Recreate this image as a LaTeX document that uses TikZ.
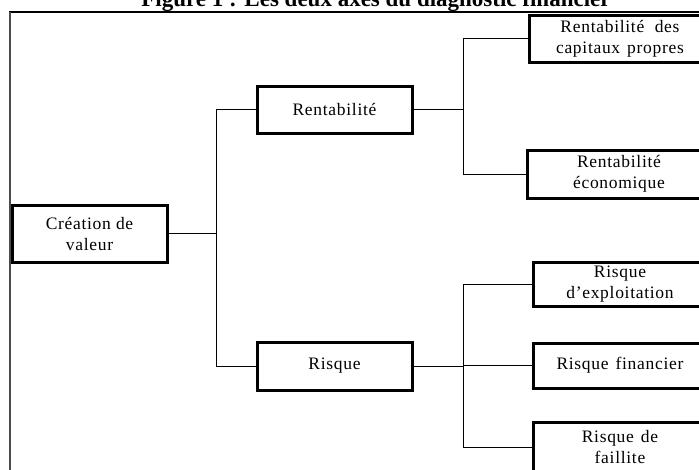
\documentclass[tikz,border=0pt]{standalone}
\usepackage{fontspec}
\setmainfont{Liberation Serif}
\newfontfamily\boxfont[LetterSpace=4]{Liberation Serif}
\begin{document}
\begin{tikzpicture}[x=1pt,y=-1pt,
  box/.style={draw=black,line width=3pt,fill=white,align=center,inner sep=0pt,
    font=\boxfont\fontsize{17.5}{21}\selectfont},
  conn/.style={draw=black,line width=1pt}]
\clip (0,0) rectangle (699,469);
\fill[white] (0,0) rectangle (699,469);
% title (cut by the top edge)
\node[anchor=base,inner sep=0pt,font=\bfseries\fontsize{23}{25}\selectfont] (title) at (376,6) {Figure 1 : Les deux axes du diagnostic financier};
% frame
\draw[black,line width=1.4pt] (9,12) -- (720,12);
\draw[black!70,line width=2.2pt] (10,12) -- (10,480);
% nodes
\node[box,minimum width=155,minimum height=57] (cv) at (89.5,233.5) {Création de\\valeur};
\node[box,minimum width=155,minimum height=47] (rent) at (334.5,109.5) {Rentabilité};
\node[box,minimum width=155,minimum height=48] (risq) at (334.5,366) {Risque};
\node[box,minimum width=182,minimum height=47] (rcp) at (620,38.5) {Rentabilité\hspace{0.6em}des\\capitaux\hspace{0.4em}propres};
\node[box,minimum width=184,minimum height=48] (reco) at (619,174) {Rentabilité\\économique};
\node[box,minimum width=174,minimum height=44] (rexp) at (620,284) {Risque\\d’exploitation};
\node[box,minimum width=174,minimum height=45] (rfin) at (620,365.5) {Risque\hspace{0.4em}financier};
\node[box,minimum width=174,minimum height=50] (rfail) at (620,447) {Risque\hspace{0.4em}de\\faillite};
% junctions
\coordinate (j1) at (216,233.5);
\coordinate (j2) at (463,109.5);
\coordinate (j3) at (463,366);
% connectors
\draw[conn] (cv.east) -- (j1);
\draw[conn] (rent.west) -| (j1);
\draw[conn] (risq.west) -| (j1);
\draw[conn] (rent.east) -- (j2);
\draw[conn] (rcp.west) -| (j2);
\draw[conn] (reco.west) -| (j2);
\draw[conn] (risq.east) -- (j3);
\draw[conn] (rexp.west) -| (j3);
\draw[conn] (rfin.west) -- (rfin.west -| j3);
\draw[conn] (rfail.west) -| (j3);
\end{tikzpicture}
\end{document}
